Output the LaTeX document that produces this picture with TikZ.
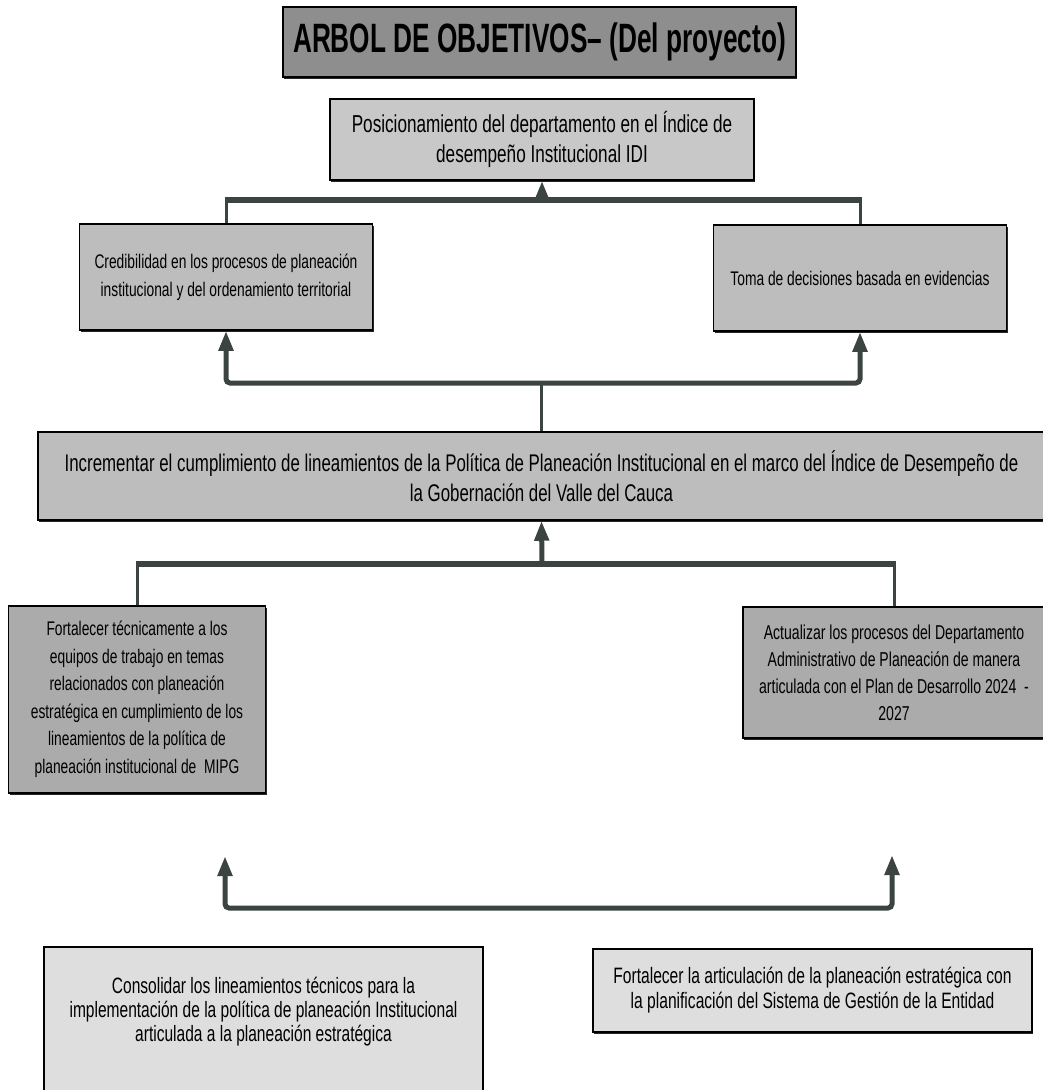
\documentclass[tikz,border=0pt]{standalone}
\usepackage{fontspec}
\setmainfont{Liberation Sans}[FakeStretch=0.70]
\newfontfamily\titlefont{Liberation Sans}[FakeStretch=0.64]
\usetikzlibrary{arrows.meta,shadows}
\definecolor{conn}{HTML}{3B4441}
\definecolor{gtitle}{HTML}{8E8E8E}
\definecolor{gpos}{HTML}{C8C8C8}
\definecolor{gmid}{HTML}{BDBDBD}
\definecolor{gdark}{HTML}{ABABAB}
\definecolor{glight}{HTML}{DEDEDE}
\begin{document}
\begin{tikzpicture}[x=1pt,y=-1pt,
  box/.style={draw=black, line width=1.5pt, align=center, inner sep=0pt,
    drop shadow={shadow xshift=1pt, shadow yshift=-2pt, fill=black, opacity=0.85}},
  fs/.style 2 args={font=\fontsize{#1}{#2}\selectfont},
  bar/.style={draw=conn, line width=6pt, shorten <=-1.5pt, shorten >=-1.5pt},
  link/.style={draw=conn, line width=5pt, rounded corners=4pt},
  stem/.style={draw=conn, line width=3pt},
  arr/.style={link, -{Triangle[length=20pt,width=14pt]}},
]
\useasboundingbox (0,0) rectangle (1042,1090);

% boxes
\node[box, fill=gtitle, minimum width=513, minimum height=70,
  font=\titlefont\bfseries\fontsize{41}{41}\selectfont] (title) at (539.5,42)
  {ARBOL DE OBJETIVOS– (Del proyecto)};

\node[box, fill=gpos, minimum width=424, minimum height=81, fs={24.5}{30}] (pos) at (542,139.5)
  {Posicionamiento del departamento en el Índice de\\desempeño Institucional IDI};

\node[box, fill=gmid, minimum width=293, minimum height=106, fs={19.7}{28}] (cred) at (226,277)
  {Credibilidad en los procesos de planeación\\institucional y del ordenamiento territorial};

\node[box, fill=gmid, minimum width=293, minimum height=106, fs={19.7}{28}] (toma) at (860,278)
  {Toma de decisiones basada en evidencias};

\node[box, fill=gmid, minimum width=1007, minimum height=88, fs={24.1}{30}] (inc) at (541.5,476)
  {Incrementar el cumplimiento de lineamientos de la Política de Planeación Institucional en el marco del Índice de Desempeño de\\la Gobernación del Valle del Cauca};

\node[box, fill=gdark, minimum width=257, minimum height=187, fs={19.7}{27.5}] (fort) at (137,699.5)
  {Fortalecer técnicamente a los\\equipos de trabajo en temas\\relacionados con planeación\\estratégica en cumplimiento de los\\lineamientos de la política de\\planeación institucional de~~MIPG};

\node[box, fill=gdark, minimum width=302, minimum height=131, fs={20.1}{27}] (act) at (894,672.5)
  {Actualizar los procesos del Departamento\\Administrativo de Planeación de manera\\articulada con el Plan de Desarrollo 2024~~-\\2027};

\path[draw=black, line width=1.5pt, fill=glight] (44,947) rectangle (483,1110);
\node[align=center, inner sep=0pt, fs={22.2}{24}] (cons) at (263.5,1012)
  {Consolidar los lineamientos técnicos para la\\implementación de la política de planeación Institucional\\articulada a la planeación estratégica};

\node[box, fill=glight, minimum width=439, minimum height=83, fs={22.3}{25}] (fart) at (812.5,990.5)
  {Fortalecer la articulación de la planeación estratégica con\\la planificación del Sistema de Gestión de la Entidad};

% connectors: top level
\coordinate (b1) at (542,200);
\draw[stem] (cred.north) -- (cred.north |- b1);
\draw[stem] (toma.north) -- (toma.north |- b1);
\draw[bar] (cred.north |- b1) -- (toma.north |- b1);
\draw[arr] (b1) -- (pos.south);

% middle level
\coordinate (b2) at (542,383);
\draw[stem] (inc.north) -- (inc.north |- b2);
\draw[arr] (b2) -| (cred.south);
\draw[arr] (b2) -| (toma.south);

% lower level
\coordinate (b3) at (542,564);
\draw[stem] (fort.north) -- (fort.north |- b3);
\draw[stem] (act.north) -- (act.north |- b3);
\draw[bar] (fort.north |- b3) -- (act.north |- b3);
\draw[arr] (b3) -- (inc.south);

% bottom level
\coordinate (b4) at (558,908);
\coordinate (t1) at (225,856);
\coordinate (t2) at (892,855);
\draw[arr] (b4) -| (t1);
\draw[arr] (b4) -| (t2);
\end{tikzpicture}
\end{document}
